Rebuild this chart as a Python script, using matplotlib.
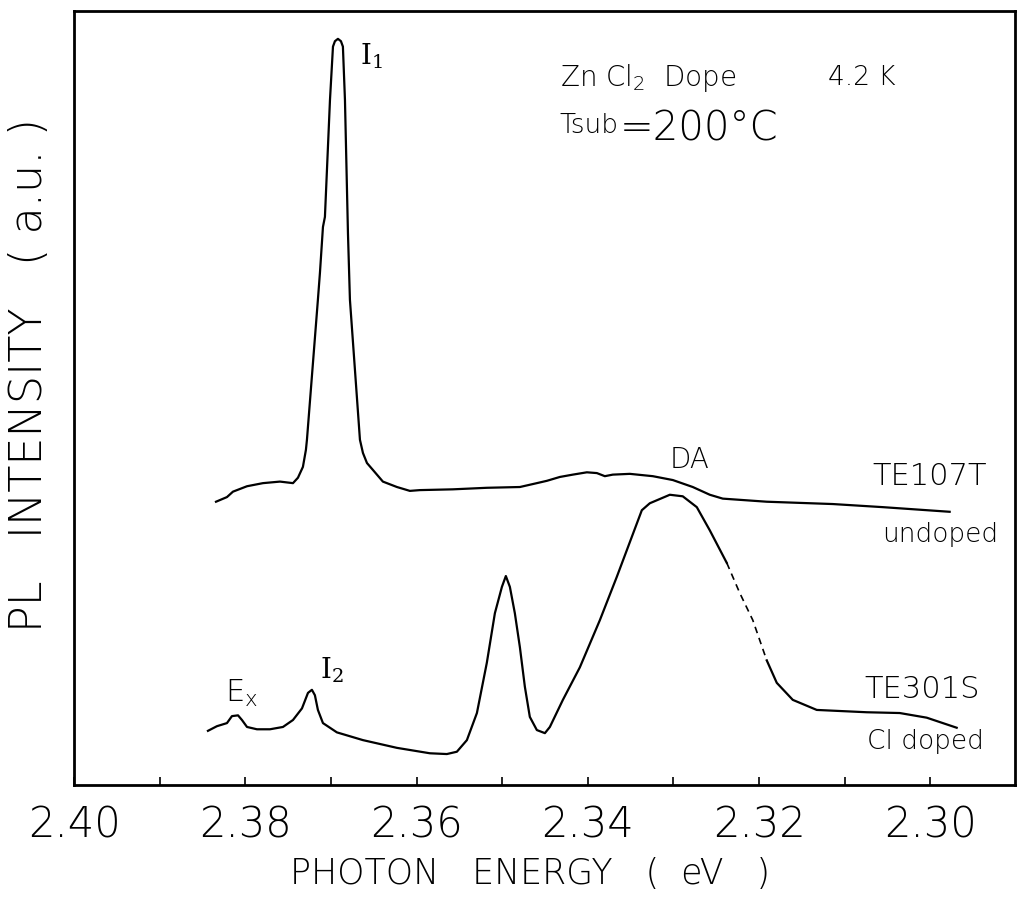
import matplotlib
matplotlib.use('Agg')
import matplotlib.pyplot as plt

# photon energy (eV) and PL intensity (a.u.)
undoped_E = [2.38342, 2.38214, 2.38144, 2.37980, 2.37794, 2.37595, 2.37443, 2.37385, 2.37327,
             2.37292, 2.37280, 2.37152, 2.37128, 2.37093, 2.37070, 2.37011, 2.36976, 2.36953,
             2.36918, 2.36883, 2.36860, 2.36836, 2.36801, 2.36778, 2.36661, 2.36626, 2.36579,
             2.36509, 2.36393, 2.36229, 2.36078, 2.35961, 2.35576, 2.35179, 2.34793, 2.34595,
             2.34478, 2.34326, 2.34175, 2.34011, 2.33894, 2.33801, 2.33708, 2.33509, 2.33241,
             2.33007, 2.32774, 2.32575, 2.32424, 2.31910, 2.31139, 2.30556, 2.29774]
undoped_I = [36.6, 37.2, 37.9, 38.6, 39.0, 39.2, 39.0, 39.7, 41.1, 43.3, 44.6, 62.7, 66.2, 72.1,
             73.4, 88.5, 95.4, 96.1, 96.4, 96.1, 95.4, 88.5, 71.3, 62.7, 44.6, 42.9, 41.6, 40.7,
             39.2, 38.5, 38.0, 38.1, 38.2, 38.4, 38.5, 39.0, 39.3, 39.8, 40.1, 40.4, 40.3, 39.9,
             40.1, 40.2, 39.9, 39.4, 38.5, 37.5, 37.0, 36.6, 36.3, 35.9, 35.3]

cl_E = [2.38436, 2.38331, 2.38214, 2.38156, 2.38085, 2.38039, 2.37980, 2.37864, 2.37712, 2.37560,
        2.37443, 2.37338, 2.37268, 2.37222, 2.37187, 2.37152, 2.37093, 2.36930, 2.36626, 2.36229,
        2.35844, 2.35646, 2.35529, 2.35412, 2.35295, 2.35179, 2.35085, 2.35003, 2.34957, 2.34910,
        2.34852, 2.34793, 2.34735, 2.34677, 2.34595, 2.34501, 2.34443, 2.34291, 2.34093, 2.33859,
        2.33661, 2.33369, 2.33276, 2.33042, 2.32891, 2.32727, 2.32575, 2.32377, 2.32225, 2.32073,
        2.31910, 2.31793, 2.31606, 2.31326, 2.30742, 2.30357, 2.30042, 2.29692]
cl_I = [7.0, 7.6, 8.0, 8.9, 9.0, 8.4, 7.5, 7.2, 7.2, 7.5, 8.4, 9.9, 11.9, 12.3, 11.6, 9.7, 8.0,
        6.8, 5.8, 4.8, 4.1, 4.0, 4.3, 5.8, 9.3, 15.8, 22.2, 25.6, 27.0, 25.6, 22.2, 17.8, 12.7,
        8.8, 7.1, 6.7, 7.5, 11.0, 15.2, 21.3, 26.9, 35.5, 36.4, 37.5, 37.3, 35.9, 32.9, 28.7,
        24.8, 21.3, 16.1, 13.2, 11.0, 9.7, 9.4, 9.3, 8.7, 7.4]

tick_vals = [2.40, 2.38, 2.36, 2.34, 2.32, 2.30]
tick_labels = ['2.40', '2.38', '2.36', '2.34', '2.32', '2.30']
minor_vals = [2.39, 2.37, 2.35, 2.33, 2.31]

FONT = 'DejaVu Sans'
plt.rcParams['font.weight'] = 'light'

fig = plt.figure(figsize=(10.17, 9.16), dpi=100)
ax = fig.add_axes([0.0728, 0.1430, 0.9253, 0.8450])

ax.plot(undoped_E, undoped_I, color='black', lw=1.6)
# the Cl doped trace is faint (dashed-looking) on part of the falling side
ax.plot(cl_E[:48], cl_I[:48], color='black', lw=1.6)
ax.plot(cl_E[47:51], cl_I[47:51], color='black', lw=1.2, ls=(0, (4, 3)))
ax.plot(cl_E[50:], cl_I[50:], color='black', lw=1.6)

ax.set_xlim(2.40, 2.2901)
ax.set_ylim(0, 100)
ax.set_xticks(tick_vals)
ax.set_xticklabels(tick_labels, family=FONT, fontsize=30, fontweight='light')
ax.set_xticks(minor_vals, minor=True)
ax.set_yticks([])
ax.tick_params(axis='x', which='both', direction='in', length=6, width=1.2, pad=14)
for s in ax.spines.values():
    s.set_linewidth(2)

# peak labels
ax.text(2.36661, 94.2, r'$\mathregular{I_1}$', family='DejaVu Serif', fontsize=20,
        ha='left', va='center')
ax.text(2.37128, 13.8, r'$\mathregular{I_2}$', family='DejaVu Serif', fontsize=20,
        ha='left', va='baseline')
ax.text(2.38237, 10.7, r'E$_\mathregular{x}$', family=FONT, fontsize=22, va='baseline')
ax.text(2.33042, 41.0, 'DA', family=FONT, fontsize=20, va='baseline')

# sample labels
ax.text(2.30672, 38.8, 'TE107T', family=FONT, fontsize=22, va='baseline')
ax.text(2.30567, 31.4, 'undoped', family=FONT, fontsize=19, va='baseline')
ax.text(2.30766, 11.2, 'TE301S', family=FONT, fontsize=22, va='baseline')
ax.text(2.30743, 4.65, 'Cl doped', family=FONT, fontsize=19, va='baseline')

# conditions
ax.text(2.34326, 90.3, r'Zn Cl$_\mathregular{2}$  Dope', family=FONT, fontsize=20, va='baseline')
ax.text(2.31198, 90.4, '4.2 K', family=FONT, fontsize=19, va='baseline')
ax.text(2.34326, 84.2, 'Tsub', family=FONT, fontsize=19, va='baseline')
ax.text(2.33626, 83.3, '=200°C', family=FONT, fontsize=29, va='baseline')

fig.text(30 / 1017, 1 - 375 / 916, 'PL   INTENSITY   ( a.u. )', family=FONT, fontsize=32,
         rotation=90, ha='center', va='center')
fig.text(530 / 1017, 1 - 874 / 916, 'PHOTON   ENERGY   (  eV   )', family=FONT, fontsize=25,
         ha='center', va='center')

fig.savefig('out.png', dpi=100)
